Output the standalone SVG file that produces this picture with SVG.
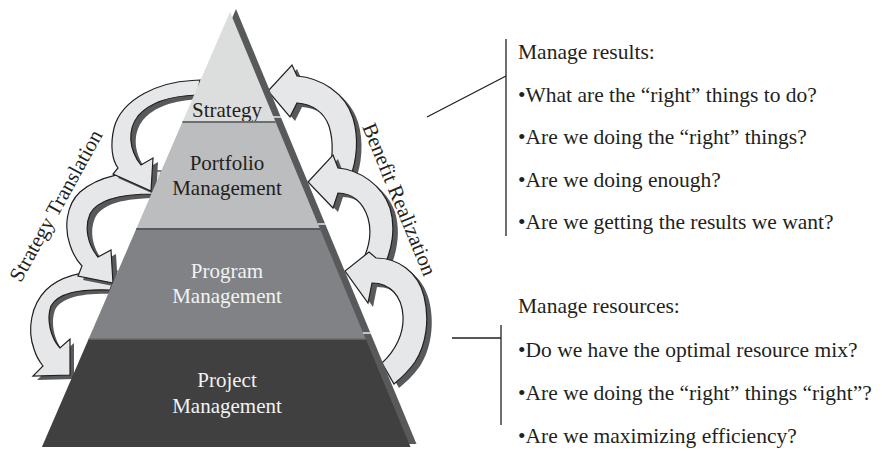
<svg xmlns="http://www.w3.org/2000/svg" width="882" height="451" viewBox="0 0 882 451">
<defs>
<style>
.t{font-family:"Liberation Serif","Times New Roman",serif;font-size:21px;fill:#231f20}
.tr{font-family:"Liberation Serif","Times New Roman",serif;font-size:21.5px;fill:#231f20}
.tw{font-family:"Liberation Serif","Times New Roman",serif;font-size:21px;fill:#f2f2f2}
.arr{fill:#e6e7e8;stroke:#231f20;stroke-width:1.2;stroke-linejoin:miter}
.sh{fill:#58595b}
.ln{stroke:#231f20;stroke-width:1.3;fill:none}
</style>
<path id="la1" d="M200,80 L192,80.5 C160,82 122,98 114,128 C110,145 112,160 118,168 L113,174 L151,191 L153,158 L141,165 C129,150 127,130 138,116 C149,103 168,96 197,95 Z"/>
<path id="la2" d="M162,171 C130,170 98,176 80,192 C66,205 64,228 70,245 C73,254 77,261 82,266 L78,276 L113,283 L111,250 L98,257 C88,245 84,228 90,214 C97,200 118,194 154,194 Z"/>
<path id="la3" d="M117,271 C90,270 62,274 46,290 C31,305 27,330 34,349 C36,356 39,361 43,366 L33,376 L70,375 L70,339 L60,348 C51,338 46,320 51,306 C58,293 78,289 110,290 Z"/>
<path id="ra1" d="M292,65 L297,76 C320,78 345,92 353,118 C359,138 357,160 350,178 L327,178 C333,162 334,142 329,126 C324,112 312,104 297,103 L290,117 L268,91 Z"/>
<path id="ra2" d="M333,155 L338,168 C360,170 382,185 390,208 C396,228 392,250 384,266 L362,262 C369,248 372,232 368,218 C363,202 352,193 338,193 L333,208 L308,182 Z"/>
<path id="ra3" d="M369,252 L376,258 C398,258 418,272 424,296 C430,320 426,345 415,362 C408,372 400,379 394,384 L382,363 C396,350 404,333 403,316 C402,296 390,283 372,283 L368,303 L345,271 Z"/>
</defs>
<rect width="882" height="451" fill="#ffffff"/>

<g id="strategy-translation-arrows">
<use href="#la3" class="sh" transform="translate(4,4)"/>
<use href="#la3" class="arr"/>
<use href="#la2" class="sh" transform="translate(5,4)"/>
<use href="#la2" class="arr"/>
<use href="#la1" class="sh" transform="translate(5,4)"/>
<use href="#la1" class="arr"/>
</g>
<g id="benefit-realization-arrows">
<use href="#ra1" class="sh" transform="translate(5,4)"/>
<use href="#ra1" class="arr"/>
<use href="#ra2" class="sh" transform="translate(5,4)"/>
<use href="#ra2" class="arr"/>
<use href="#ra3" class="sh" transform="translate(5,4)"/>
<use href="#ra3" class="arr"/>
</g>

<g id="pyramid-shadow">
<polygon points="236,9 416.5,444 47.9,444" fill="#58595b"/>
</g>
<g id="layer-strategy">
<polygon points="230,12 275.6,122 182.4,122" fill="#dcdddd"/>
<text class="t" x="227" y="117" text-anchor="middle">Strategy</text>
</g>
<g id="layer-portfolio">
<polygon points="182.4,122 275.6,122 320,229 136.2,229" fill="#bcbdbf"/>
<line x1="182.4" y1="122" x2="275.6" y2="122" stroke="#6d6e70" stroke-width="2"/>
<text class="t" x="227" y="170" text-anchor="middle">Portfolio</text>
<text class="t" x="227" y="195" text-anchor="middle">Management</text>
</g>
<g id="layer-program">
<polygon points="136.2,229 320,229 365.7,339 88.6,339" fill="#808285"/>
<line x1="136.2" y1="229" x2="320" y2="229" stroke="#58595b" stroke-width="2"/>
<text class="tw" x="227" y="278" text-anchor="middle">Program</text>
<text class="tw" x="227" y="303" text-anchor="middle">Management</text>
</g>
<g id="layer-project">
<polygon points="88.6,339 365.7,339 410.5,447 41.9,447" fill="#404041"/>
<line x1="88.6" y1="339" x2="365.7" y2="339" stroke="#6d6e70" stroke-width="1.5"/>
<text class="tw" x="227" y="387" text-anchor="middle">Project</text>
<text class="tw" x="227" y="413" text-anchor="middle">Management</text>
</g>
<g id="edge-ticks" stroke="#e6e7e8" stroke-width="1.5">
<line x1="273" y1="117" x2="281" y2="117"/>
<line x1="318" y1="224" x2="326" y2="224"/>
<line x1="363" y1="333" x2="371" y2="333"/>
</g>

<g id="label-strategy-translation">
<text class="t" text-anchor="middle" transform="translate(62,209) rotate(-61)">Strategy Translation</text>
</g>
<g id="label-benefit-realization">
<text class="t" text-anchor="middle" transform="translate(393,202) rotate(67.6)">Benefit Realization</text>
</g>

<g id="connectors">
<polyline class="ln" points="427,117 506,76"/>
<line class="ln" x1="506" y1="39" x2="506" y2="236"/>
<line class="ln" x1="452" y1="338" x2="501" y2="338"/>
<line class="ln" x1="501" y1="325" x2="501" y2="425"/>
</g>

<g id="manage-results">
<text class="tr" x="518" y="59">Manage results:</text>
<text class="tr" x="518" y="102">•What are the “right” things to do?</text>
<text class="tr" x="518" y="144">•Are we doing the “right” things?</text>
<text class="tr" x="518" y="187">•Are we doing enough?</text>
<text class="tr" x="518" y="229">•Are we getting the results we want?</text>
</g>
<g id="manage-resources">
<text class="tr" x="518" y="313">Manage resources:</text>
<text class="tr" x="518" y="357">•Do we have the optimal resource mix?</text>
<text class="tr" x="518" y="400">•Are we doing the “right” things “right”?</text>
<text class="tr" x="518" y="443">•Are we maximizing efficiency?</text>
</g>
</svg>
